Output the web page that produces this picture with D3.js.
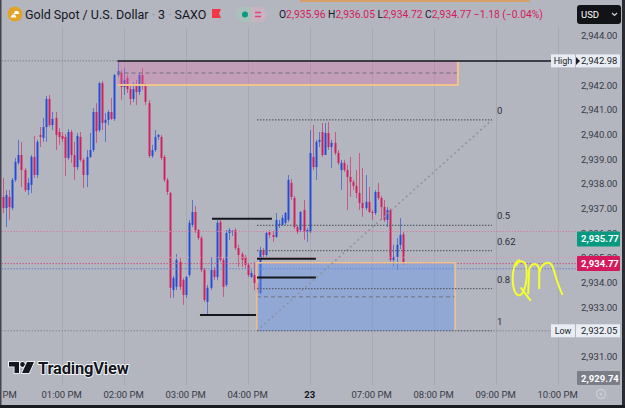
<!DOCTYPE html>
<html>
<head>
<meta charset="utf-8">
<script src="https://cdn.jsdelivr.net/npm/d3@7"></script>
<style>
  body { margin: 0; background: #b3b6bf; }
  svg { display: block; font-family: Roboto, "Noto Sans", sans-serif; }
</style>
</head>
<body>
<svg id="chart" width="625" height="408"></svg>
<script>
// 3 minute candles, [open, high, low, close], first one at 12:03 PM
const ohlc = [
  [2937.47, 2938.24, 2936.82, 2937.02], [2937.02, 2937.75, 2936.25, 2937.55], [2937.47, 2937.75, 2936.54, 2937.06],
  [2937.02, 2938.24, 2936.94, 2938.16], [2938.16, 2939.05, 2938.08, 2938.89], [2938.85, 2939.78, 2938.77, 2939.17],
  [2939.17, 2939.70, 2937.87, 2938.56], [2938.56, 2938.64, 2937.67, 2937.75], [2937.75, 2938.24, 2937.55, 2938.04],
  [2937.96, 2939.17, 2937.63, 2939.09], [2939.09, 2939.94, 2938.24, 2938.36], [2938.36, 2939.78, 2938.24, 2939.70],
  [2939.98, 2940.30, 2939.49, 2939.90], [2939.86, 2940.67, 2939.70, 2940.30], [2940.30, 2941.56, 2939.70, 2941.44],
  [2941.44, 2941.60, 2940.30, 2940.38], [2940.38, 2940.91, 2940.18, 2940.63], [2940.67, 2940.91, 2939.37, 2939.98],
  [2940.10, 2940.26, 2939.58, 2939.90], [2939.94, 2940.10, 2939.70, 2939.82], [2939.90, 2940.02, 2938.32, 2939.05],
  [2939.05, 2940.22, 2938.97, 2940.10], [2940.10, 2940.18, 2938.85, 2939.17], [2939.17, 2939.70, 2938.16, 2938.68],
  [2938.68, 2940.06, 2938.56, 2939.94], [2939.90, 2940.10, 2938.89, 2938.97], [2938.97, 2939.05, 2937.83, 2938.36],
  [2938.36, 2939.37, 2937.87, 2939.09], [2939.09, 2940.06, 2939.05, 2939.37], [2939.37, 2941.07, 2939.29, 2940.91],
  [2940.91, 2941.27, 2939.66, 2940.14], [2940.18, 2942.13, 2940.10, 2942.08], [2942.08, 2942.17, 2940.18, 2940.47],
  [2940.47, 2940.87, 2939.70, 2940.59], [2940.59, 2940.99, 2940.38, 2940.91], [2940.91, 2941.48, 2940.59, 2940.63],
  [2940.63, 2942.45, 2940.55, 2942.41], [2942.41, 2942.98, 2942.33, 2942.57], [2942.49, 2942.61, 2941.40, 2941.92],
  [2941.92, 2942.69, 2941.60, 2942.21], [2942.29, 2942.41, 2941.68, 2941.84], [2941.84, 2942.00, 2941.19, 2941.44],
  [2941.44, 2942.13, 2941.32, 2941.84], [2942.00, 2942.21, 2941.19, 2941.72], [2941.72, 2942.49, 2941.60, 2942.41],
  [2942.41, 2942.69, 2941.80, 2941.96], [2942.00, 2942.08, 2941.19, 2941.32], [2941.27, 2941.40, 2939.05, 2939.13],
  [2939.13, 2939.58, 2939.05, 2939.37], [2939.37, 2940.18, 2939.29, 2939.90], [2939.90, 2940.02, 2939.78, 2939.98],
  [2939.90, 2939.98, 2938.97, 2939.05], [2939.09, 2939.17, 2938.08, 2938.16], [2938.16, 2938.24, 2937.55, 2937.67],
  [2937.63, 2937.67, 2933.38, 2933.79], [2933.70, 2934.27, 2933.38, 2934.19], [2933.83, 2935.16, 2933.70, 2934.92],
  [2934.84, 2935.00, 2933.70, 2933.83], [2934.11, 2934.19, 2933.10, 2933.50], [2933.50, 2934.27, 2933.38, 2934.23],
  [2934.31, 2936.54, 2934.23, 2936.42], [2936.34, 2937.35, 2936.25, 2936.86], [2936.86, 2937.10, 2936.01, 2936.13],
  [2936.13, 2936.17, 2935.73, 2935.81], [2935.81, 2935.89, 2934.43, 2934.51], [2934.51, 2934.60, 2933.22, 2933.30],
  [2933.22, 2933.91, 2932.69, 2933.79], [2933.79, 2935.04, 2933.70, 2934.51], [2934.51, 2934.64, 2934.11, 2934.23],
  [2934.23, 2936.54, 2934.11, 2936.42], [2936.46, 2936.54, 2934.84, 2934.92], [2934.92, 2935.00, 2933.42, 2933.83],
  [2933.91, 2936.13, 2933.83, 2936.01], [2936.01, 2936.21, 2935.73, 2936.13], [2936.05, 2936.13, 2935.89, 2936.09],
  [2936.13, 2936.21, 2935.32, 2935.40], [2935.40, 2935.53, 2934.64, 2935.12], [2935.16, 2935.24, 2934.64, 2934.92],
  [2935.04, 2935.12, 2934.60, 2934.72], [2934.72, 2934.80, 2934.23, 2934.31], [2934.23, 2934.51, 2934.19, 2934.39],
  [2934.31, 2934.84, 2933.70, 2933.99], [2933.99, 2934.84, 2932.05, 2933.58], [2933.58, 2935.45, 2933.50, 2935.32],
  [2935.32, 2935.40, 2935.00, 2935.12], [2935.12, 2936.05, 2935.04, 2936.01], [2936.05, 2936.13, 2935.81, 2935.93],
  [2935.93, 2936.09, 2935.65, 2935.85], [2935.85, 2936.82, 2935.81, 2936.54], [2936.34, 2936.54, 2936.21, 2936.38],
  [2936.34, 2936.74, 2936.30, 2936.62], [2936.42, 2936.86, 2936.34, 2936.82], [2936.54, 2938.36, 2936.46, 2938.16],
  [2938.04, 2938.20, 2937.35, 2937.47], [2937.43, 2937.51, 2936.17, 2936.25], [2936.25, 2936.30, 2935.97, 2936.05],
  [2936.13, 2936.90, 2936.05, 2936.86], [2936.94, 2937.35, 2935.73, 2936.05], [2936.05, 2936.21, 2935.65, 2936.13],
  [2936.05, 2940.18, 2936.01, 2939.25], [2939.09, 2940.38, 2938.56, 2938.68], [2938.68, 2939.78, 2938.16, 2939.70],
  [2939.70, 2940.10, 2939.49, 2939.78], [2940.10, 2940.47, 2939.09, 2939.17], [2939.17, 2940.47, 2939.17, 2940.06],
  [2940.06, 2940.51, 2939.37, 2939.49], [2939.49, 2939.78, 2938.64, 2939.66], [2939.66, 2940.10, 2939.17, 2939.25],
  [2939.25, 2939.37, 2938.77, 2938.85], [2938.56, 2938.97, 2937.75, 2938.85], [2938.85, 2938.97, 2938.48, 2938.56],
  [2938.56, 2938.77, 2936.94, 2938.28], [2938.28, 2939.09, 2937.47, 2938.08], [2938.08, 2938.16, 2937.75, 2937.92],
  [2937.92, 2938.56, 2937.43, 2937.63], [2937.63, 2939.25, 2936.94, 2937.23], [2937.23, 2938.64, 2936.66, 2937.02],
  [2937.02, 2938.36, 2936.94, 2937.27], [2937.27, 2937.87, 2936.82, 2936.86], [2936.86, 2936.94, 2936.54, 2936.82],
  [2936.82, 2937.75, 2936.74, 2937.67], [2937.67, 2938.04, 2937.35, 2937.43], [2937.43, 2937.51, 2936.54, 2937.06],
  [2937.06, 2937.35, 2936.46, 2936.54], [2936.54, 2937.06, 2936.25, 2936.94], [2936.94, 2937.00, 2934.84, 2934.92],
  [2934.92, 2935.53, 2934.64, 2935.04], [2935.04, 2935.81, 2934.51, 2935.53], [2935.53, 2936.62, 2935.36, 2935.93],
  [2935.96, 2936.05, 2934.72, 2934.77]
];

const timeTickIndex = [-1, 19, 39, 59, 79, 99, 119, 139, 159, 179];
const timeTickLabels = ["12:00 PM", "01:00 PM", "02:00 PM", "03:00 PM", "04:00 PM", "23",
                        "07:00 PM", "08:00 PM", "09:00 PM", "10:00 PM"];
const priceTicks = [2944, 2942, 2941, 2940, 2939, 2938, 2937, 2936, 2935, 2934, 2933, 2931];

// drawings: [fromIndex, toIndex, topPrice, bottomPrice]
const supplyZone = [37, 146.8, 2942.98, 2942.00];
const demandZone = [82, 145.9, 2934.80, 2932.05];
// black trend lines [fromIndex, toIndex, price]
const segments = [[67.5, 86.8, 2936.59], [63.6, 81.7, 2932.69], [82, 101, 2934.97], [82, 101, 2934.21]];
// fib retracement from the low to the swing high
const fibFrom = [82, 2932.05];
const fibTo = [157.8, 2940.59];
const fibLevels = [0, 0.5, 0.62, 0.8, 1];
const priceLines = [2936.07, 2935.02, 2934.77, 2934.56];

const highPrice = 2942.98, lowPrice = 2932.05;
const lastPrice = 2934.77, greenPrice = 2935.77, greyPrice = 2929.74;
const header = { o: 2935.96, h: 2936.05, l: 2934.72, c: 2934.77, chg: "−1.18", pct: "(−0.04%)" };

const upColor = "#1f48d6", downColor = "#d41a5c";
const fmt = d3.format(",.2f");

const svg = d3.select("#chart");
const plotRight = 576;

const x = d3.scaleLinear().domain([0, 179]).range([2.8, 557.7]);
const y = d3.scaleLinear().domain([2931, 2944]).range([356.7, 35.7]);

svg.append("rect").attr("width", 625).attr("height", 408).attr("fill", "#b3b6bf");

svg.append("defs").append("clipPath").attr("id", "plotClip")
  .append("rect").attr("x", 1.5).attr("y", 28).attr("width", plotRight - 1.5).attr("height", 357);

// vertical grid
svg.append("g").selectAll("line").data(timeTickIndex).join("line")
  .attr("x1", d => Math.round(x(d)) + 0.5).attr("x2", d => Math.round(x(d)) + 0.5)
  .attr("y1", 28).attr("y2", 385)
  .attr("stroke", "#a6a9b2").attr("stroke-width", 1);

const plot = svg.append("g").attr("clip-path", "url(#plotClip)");

// candles
const cx = i => Math.round(x(i));
plot.append("g").selectAll("line").data(ohlc).join("line")
  .attr("x1", (d, i) => cx(i) + 0.5).attr("x2", (d, i) => cx(i) + 0.5)
  .attr("y1", d => y(d[1])).attr("y2", d => y(d[2]))
  .attr("stroke", d => d[3] >= d[0] ? upColor : downColor)
  .attr("stroke-opacity", 0.6);

plot.append("g").selectAll("rect").data(ohlc).join("rect")
  .attr("x", (d, i) => cx(i) - 0.5).attr("width", 2)
  .attr("y", d => y(Math.max(d[0], d[3])))
  .attr("height", d => Math.max(1, Math.abs(y(d[0]) - y(d[3]))))
  .attr("fill", d => d[3] >= d[0] ? upColor : downColor)
  .attr("fill-opacity", 0.92);

// full width dotted price lines
const lineColors = ["#d4809f", "#d99ab3", "#d2507e", "#5f7fd0"];
plot.append("g").selectAll("line").data(priceLines).join("line")
  .attr("x1", 1.5).attr("x2", plotRight)
  .attr("y1", d => y(d)).attr("y2", d => y(d))
  .attr("stroke", (d, i) => lineColors[i]).attr("stroke-width", 1)
  .attr("stroke-dasharray", "1.5,1.5");

// high / low dotted lines
plot.append("line").attr("x1", 1.5).attr("x2", x(supplyZone[0]))
  .attr("y1", y(highPrice)).attr("y2", y(highPrice))
  .attr("stroke", "#7f828c").attr("stroke-dasharray", "1.5,1.5");
plot.append("line").attr("x1", 1.5).attr("x2", 551)
  .attr("y1", y(lowPrice)).attr("y2", y(lowPrice))
  .attr("stroke", "#858892").attr("stroke-dasharray", "1.5,1.5");

// zones
const zoneEdge = "#efc48f";
function zone(z, fill) {
  const g = plot.append("g");
  const x0 = x(z[0]), x1 = x(z[1]), y0 = y(z[2]), y1 = y(z[3]);
  g.append("rect").attr("x", x0).attr("y", y0).attr("width", x1 - x0).attr("height", y1 - y0)
    .attr("fill", fill);
  g.append("line").attr("x1", x0).attr("x2", x1).attr("y1", (y0 + y1) / 2).attr("y2", (y0 + y1) / 2)
    .attr("stroke", "#6f727c").attr("stroke-dasharray", "4,3").attr("stroke-width", 1);
  return { g, x0, x1, y0, y1 };
}
const sz = zone(supplyZone, "rgba(230,110,170,0.32)");
sz.g.append("path").attr("d", `M${sz.x0},${sz.y1}H${sz.x1}V${sz.y0}`)
  .attr("fill", "none").attr("stroke", zoneEdge).attr("stroke-width", 2);

const dz = zone(demandZone, "rgba(100,150,240,0.42)");
dz.g.append("path").attr("d", `M${dz.x0},${dz.y1}V${dz.y0}H${dz.x1}V${dz.y1}`)
  .attr("fill", "none").attr("stroke", zoneEdge).attr("stroke-width", 1.5);

// fib retracement
const fibX0 = x(fibFrom[0]), fibX1 = x(fibTo[0]);
const fibPrice = lv => fibTo[1] - lv * (fibTo[1] - fibFrom[1]);
plot.append("line").attr("x1", fibX0).attr("y1", y(fibFrom[1])).attr("x2", fibX1).attr("y2", y(fibTo[1]))
  .attr("stroke", "#8e919b").attr("stroke-width", 1.5).attr("stroke-dasharray", "2,3");
plot.append("g").selectAll("line").data(fibLevels).join("line")
  .attr("x1", fibX0).attr("x2", fibX1)
  .attr("y1", d => y(fibPrice(d))).attr("y2", d => y(fibPrice(d)))
  .attr("stroke", "#5c5f69").attr("stroke-width", 1.2).attr("stroke-dasharray", "1.5,1.5");
plot.append("g").selectAll("text").data(fibLevels).join("text")
  .attr("x", fibX1 + 5).attr("y", d => y(fibPrice(d)) - 6)
  .attr("font-size", 9.5).attr("fill", "#2a2e39")
  .text(d => String(d));

// black segments
plot.append("g").selectAll("line").data(segments).join("line")
  .attr("x1", d => x(d[0])).attr("x2", d => x(d[1]))
  .attr("y1", d => y(d[2])).attr("y2", d => y(d[2]))
  .attr("stroke", "#15171c").attr("stroke-width", 2);

// high line
plot.append("line").attr("x1", x(supplyZone[0])).attr("x2", 551)
  .attr("y1", y(highPrice)).attr("y2", y(highPrice))
  .attr("stroke", "#15171c").attr("stroke-width", 1.5);

// hand drawn QM
const qm = svg.append("g")
  .attr("transform", `translate(${x(164)},${y(2934.95)})`)
  .attr("fill", "none").attr("stroke", "#f4ff2e").attr("stroke-width", 2)
  .attr("stroke-linecap", "round").attr("stroke-linejoin", "round");
qm.append("path").attr("d", "M8,1 C0,3 -1,33 7,36 C13,38 17,20 15,8 C14,1 8,0 5,6 M10,29 L19,41");
qm.append("path").attr("d", "M17,34 L18,10 C21,3 27,3 28,11 L28,29 M28,13 C31,3 39,0 42,9 C45,19 48,29 51,35");

// price axis labels
svg.append("g").selectAll("text").data(priceTicks).join("text")
  .attr("x", 581).attr("y", d => y(d) + 3.5)
  .attr("font-size", 9.5).attr("fill", "#363a45")
  .text(d => fmt(d));

function priceTag(p, bg, fg, bold) {
  const g = svg.append("g");
  g.append("rect").attr("x", 577).attr("y", y(p) - 7.5).attr("width", 43).attr("height", 15)
    .attr("rx", 1).attr("fill", bg);
  g.append("text").attr("x", 581).attr("y", y(p) + 3.5).attr("font-size", 9.5)
    .attr("font-weight", bold ? 700 : 400).attr("fill", fg).text(fmt(p));
  return g;
}
priceTag(greenPrice, "#089981", "#ffffff", true);
priceTag(lastPrice, "#d41a5c", "#ffffff", true);
svg.append("g").call(g => {
  g.append("rect").attr("x", 577).attr("y", 371).attr("width", 43).attr("height", 14)
    .attr("rx", 1).attr("fill", "#7b7e87");
  g.append("text").attr("x", 581).attr("y", 381.5).attr("font-size", 9.5)
    .attr("font-weight", 700).attr("fill", "#ffffff").text(fmt(greyPrice));
});

// high / low tags
function hlTag(p, name, arrow) {
  const g = svg.append("g");
  const yy = y(p);
  g.append("rect").attr("x", 551).attr("y", yy - 6.5).attr("width", 24).attr("height", 13)
    .attr("fill", "#e8ecf3");
  g.append("text").attr("x", 563).attr("y", yy + 3.3).attr("text-anchor", "middle")
    .attr("font-size", 9).attr("fill", "#1c1f27").text(name);
  g.append("rect").attr("x", 576).attr("y", yy - 6.5).attr("width", 44).attr("height", 13)
    .attr("fill", "#e8ecf3");
  if (arrow) g.append("path").attr("d", `M576,${yy - 4}L580,${yy}L576,${yy + 4}Z`).attr("fill", "#1c1f27");
  g.append("text").attr("x", 581).attr("y", yy + 3.3).attr("font-size", 9.5).attr("fill", "#1c1f27")
    .text(fmt(p));
}
hlTag(highPrice, "High", true);
hlTag(lowPrice, "Low", false);

// time axis
svg.append("g").selectAll("text").data(timeTickIndex).join("text")
  .attr("x", (d, i) => x(d) - (i === 0 ? 3 : 0)).attr("y", 398)
  .attr("text-anchor", "middle").attr("font-size", 9.5)
  .attr("font-weight", (d, i) => timeTickLabels[i] === "23" ? 700 : 400)
  .attr("fill", (d, i) => timeTickLabels[i] === "23" ? "#131722" : "#363a45")
  .text((d, i) => timeTickLabels[i]);

// settings gear
svg.append("circle").attr("cx", 601).attr("cy", 394).attr("r", 4.5)
  .attr("fill", "none").attr("stroke", "#c9ccd4").attr("stroke-width", 1.5);
svg.append("circle").attr("cx", 601).attr("cy", 394).attr("r", 1.5).attr("fill", "#c9ccd4");

// USD button
svg.append("rect").attr("x", 577).attr("y", 5).attr("width", 44).attr("height", 19).attr("rx", 3).attr("fill", "#121316");
svg.append("text").attr("x", 581).attr("y", 18).attr("font-size", 9.5).attr("fill", "#ffffff").text("USD");
svg.append("path").attr("d", "M612,13 L614.5,15.5 L617,13").attr("fill", "none").attr("stroke", "#d0d3da").attr("stroke-width", 1.2);

// TradingView logo
const logo = svg.append("g").attr("fill", "#131722").attr("stroke", "#ffffff").attr("stroke-width", 1.6)
  .attr("paint-order", "stroke");
logo.append("path").attr("d", "M9,362 H19 V373 H14.5 V366.5 H9 Z");
logo.append("circle").attr("cx", 22.5).attr("cy", 364.5).attr("r", 2.4);
logo.append("path").attr("d", "M27,362 H34 L29,373 H22 Z");
logo.append("text").attr("x", 38).attr("y", 373.5).attr("font-size", 16.5).attr("font-weight", 700)
  .attr("letter-spacing", -0.2).text("TradingView");

// header
svg.append("circle").attr("cx", 15).attr("cy", 14).attr("r", 7.5).attr("fill", "#e3a326");
svg.append("path").attr("d", "M10.5,17.5 L12,14.5 H15 L16.5,17.5 Z M13.5,14 L15,11 H18 L19.5,14 Z").attr("fill", "#ffffff");
const title = svg.append("text").attr("x", 25).attr("y", 18.5).attr("font-size", 12.5).attr("fill", "#131722");
title.append("tspan").text("Gold Spot / U.S. Dollar");
title.append("tspan").attr("fill", "#8b8e97").text(" · ");
title.append("tspan").text("3");
title.append("tspan").attr("fill", "#8b8e97").text(" · ");
title.append("tspan").text("SAXO");
svg.append("path").attr("d", "M212,9 H221 L219,13.5 L221,18 H212 Z").attr("fill", "#f23645");
svg.append("rect").attr("x", 236).attr("y", 7).attr("width", 31).attr("height", 15).attr("rx", 7.5).attr("fill", "#c8b4c0");
svg.append("path").attr("d", "M243.5,7 A7.5,7.5 0 0 0 243.5,22 H251 V7 Z").attr("fill", "#a9c0bb");
svg.append("circle").attr("cx", 245).attr("cy", 14.5).attr("r", 3).attr("fill", "#089981");
svg.append("path").attr("d", "M255,12.5 H261 M255,16.5 H261").attr("stroke", "#e0437a").attr("stroke-width", 1.4);

const ohlcText = svg.append("text").attr("x", 279).attr("y", 18).attr("font-size", 10.3).attr("fill", "#d41a5c");
[["O", header.o], ["H", header.h], ["L", header.l], ["C", header.c]].forEach(([k, v], i) => {
  ohlcText.append("tspan").attr("fill", "#131722").text((i ? " " : "") + k);
  ohlcText.append("tspan").text(fmt(v));
});
ohlcText.append("tspan").text(" " + header.chg + " " + header.pct);

// frame
svg.append("line").attr("x1", 300).attr("x2", 530).attr("y1", 1).attr("y2", 1).attr("stroke", "#e09a4c").attr("stroke-width", 1.5);
svg.append("rect").attr("x", 0).attr("y", 0).attr("width", 1.5).attr("height", 408).attr("fill", "#42454d");
svg.append("rect").attr("x", 622).attr("y", 0).attr("width", 3).attr("height", 408).attr("fill", "#2a2c31");
svg.append("rect").attr("x", 0).attr("y", 405).attr("width", 625).attr("height", 3).attr("fill", "#1b1c20");
</script>
</body>
</html>
